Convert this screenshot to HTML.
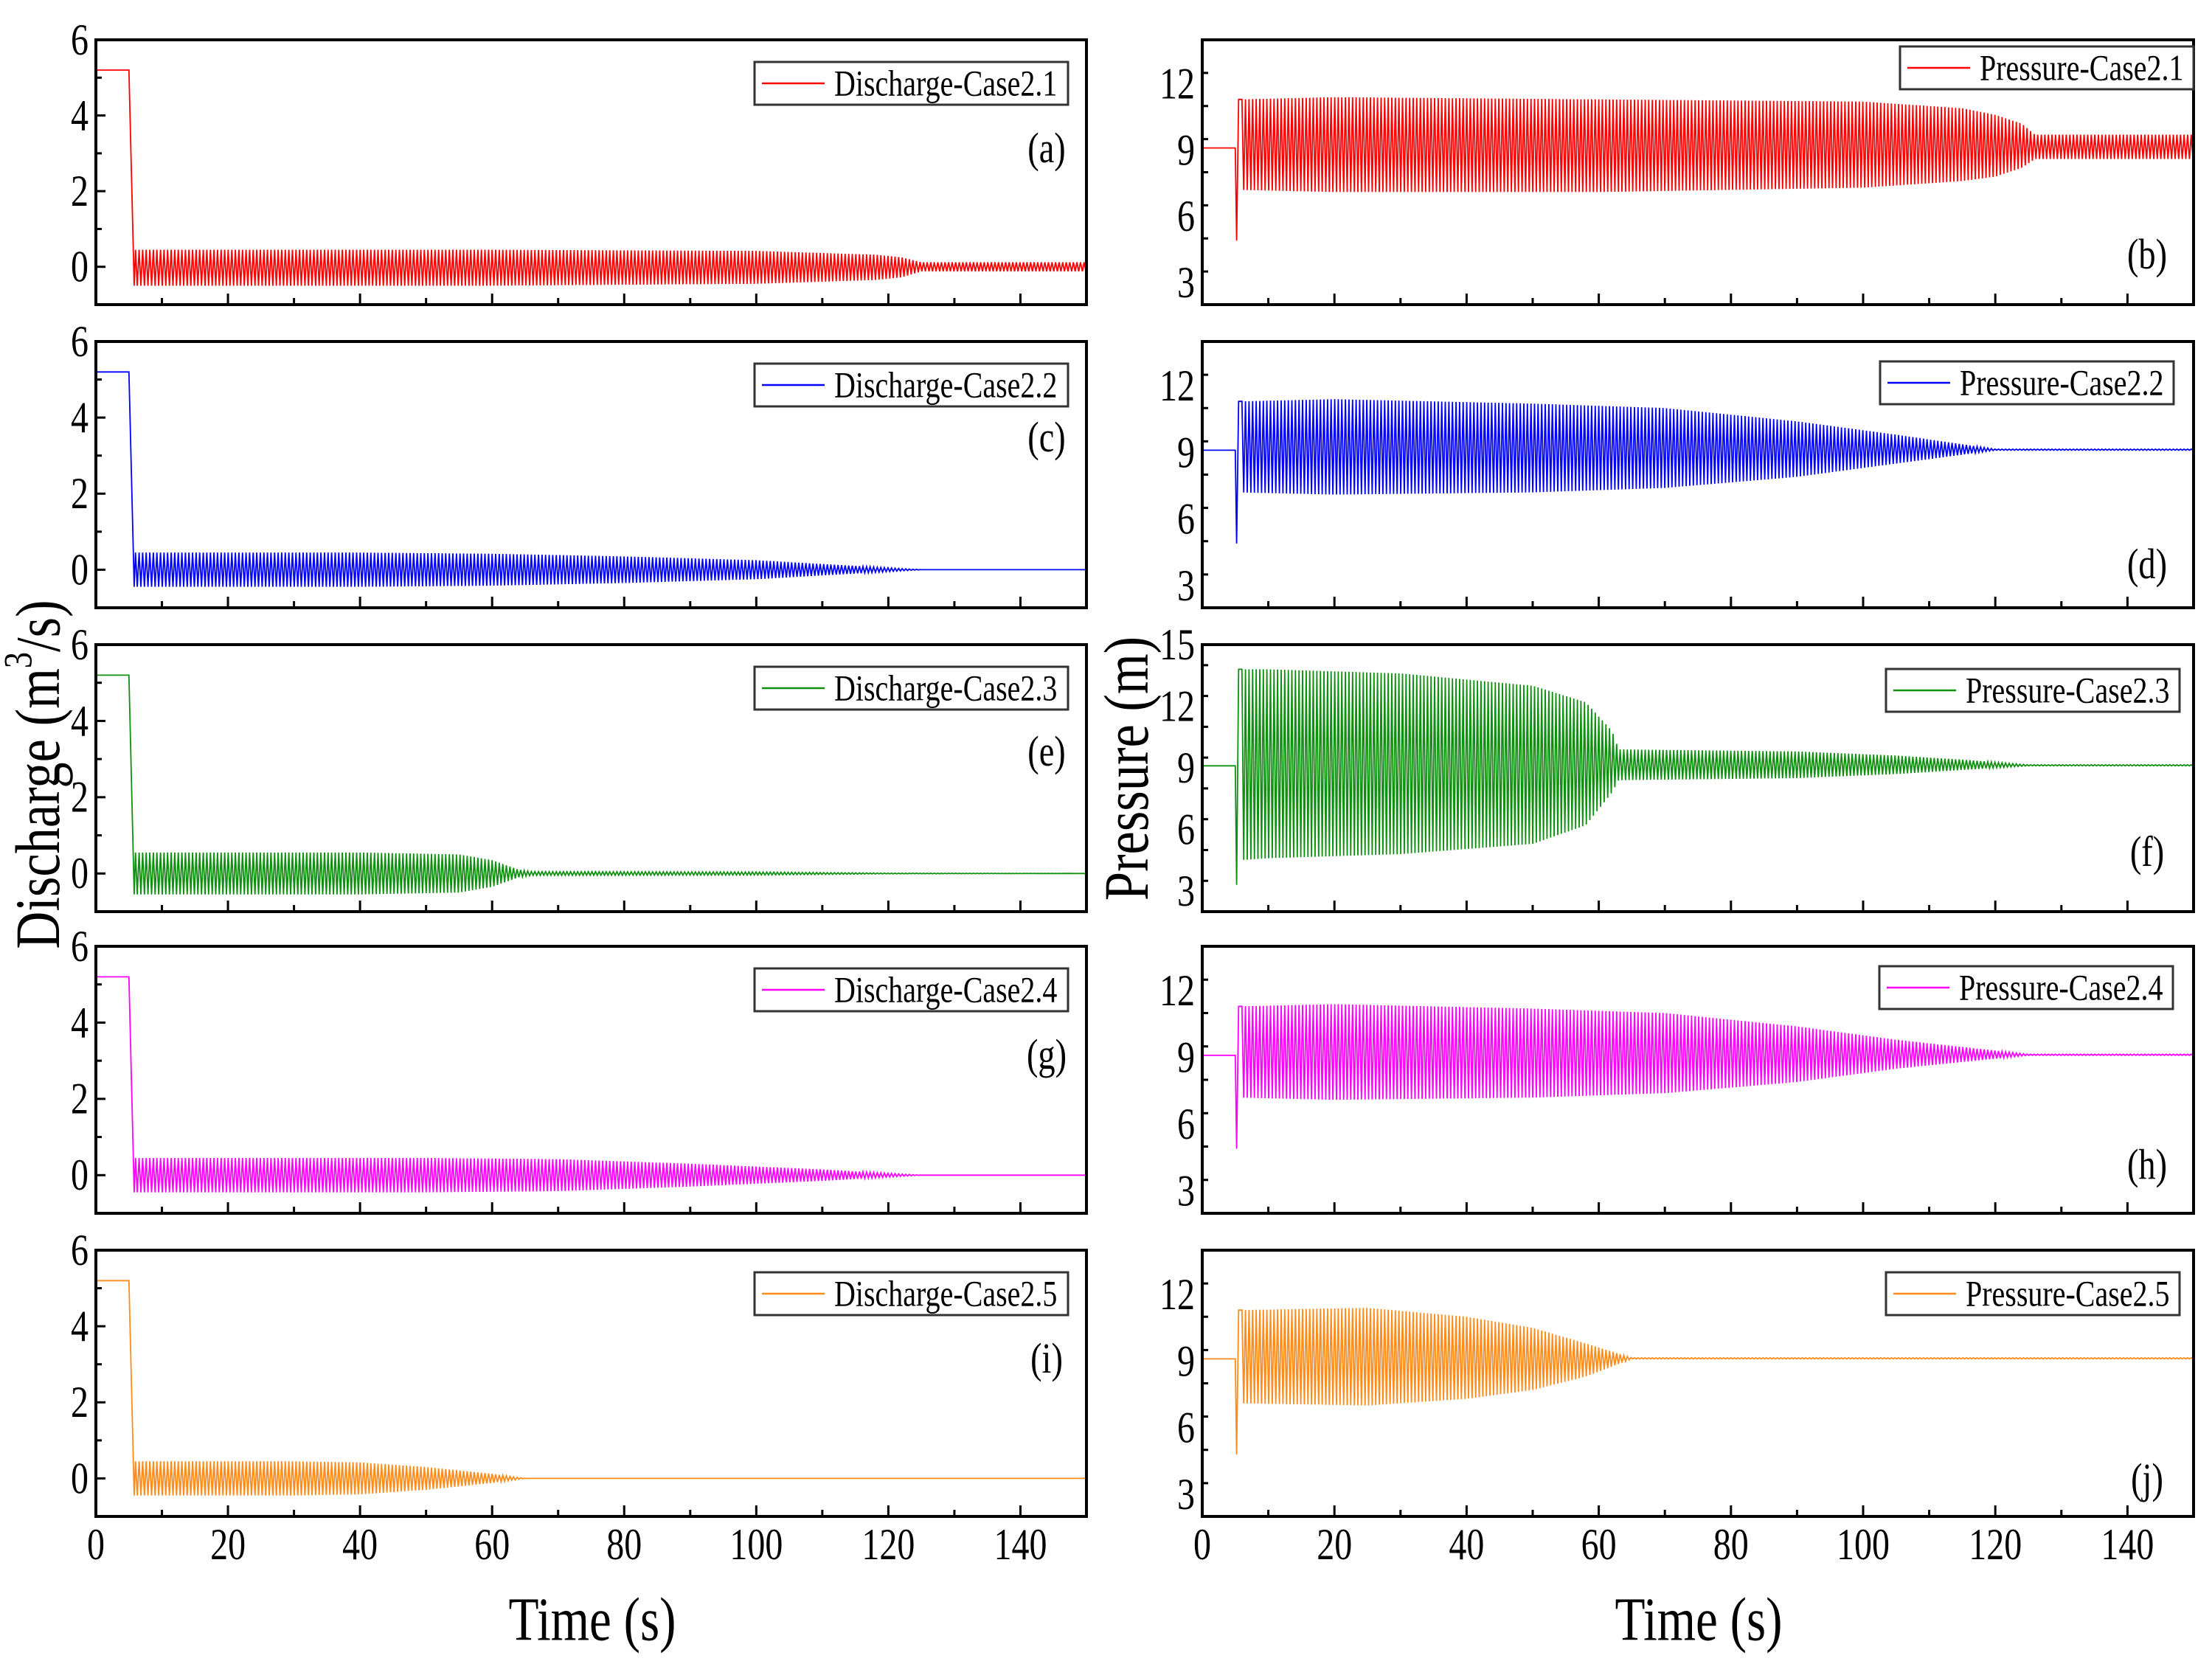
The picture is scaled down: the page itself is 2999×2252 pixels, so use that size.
<!DOCTYPE html>
<html><head><meta charset="utf-8"><style>
html,body{margin:0;padding:0;background:#fff;}
svg{display:block;font-family:"Liberation Serif",serif;}
</style></head><body>
<svg id="fig" width="2999" height="2252" viewBox="0 0 2999 2252" xmlns="http://www.w3.org/2000/svg"></svg>
<script>
// ---- data ----
const xTicks = [0,20,40,60,80,100,120,140];
const dischargeTicks = [0,2,4,6];
const pressureTicks = [3,6,9,12];
const pressureTicksF = [3,6,9,12,15];
const caseNames = ["2.1","2.2","2.3","2.4","2.5"];
const colors = ["#ff0000","#0000ff","#109010","#ff00ff","#ff8c1a"];
const dInitial = [5.2,5.2,5.2,5.2,5.2];
const pInitial = [9.1,9.1,9.1,9.1,9.1];
const pDip = [4.9,4.9,3.3,4.9,4.8];
// envelope knots (time s) with upper/lower values
const d1T=[5.5,20,60,100,118,122,125,150], d1U=[0.45,0.45,0.45,0.42,0.32,0.25,0.12,0.12], d1L=[-0.5,-0.5,-0.5,-0.45,-0.35,-0.28,-0.12,-0.12];
const d2T=[5.5,40,60,80,100,115,125,150], d2U=[0.45,0.45,0.42,0.35,0.25,0.1,0,0], d2L=[-0.45,-0.45,-0.42,-0.35,-0.25,-0.1,0,0];
const d3T=[5.5,40,55,60,64,66,100,120,150], d3U=[0.55,0.55,0.5,0.35,0.1,0.05,0.04,0.01,0], d3L=[-0.55,-0.55,-0.5,-0.35,-0.1,-0.05,-0.04,-0.01,0];
const d4T=[5.5,50,70,90,110,125,150], d4U=[0.45,0.45,0.42,0.3,0.15,0,0], d4L=[-0.45,-0.45,-0.42,-0.3,-0.15,0,0];
const d5T=[5.5,30,40,50,60,65,150], d5U=[0.45,0.45,0.42,0.3,0.12,0,0], d5L=[-0.45,-0.45,-0.42,-0.3,-0.12,0,0];
const p1T=[5.5,20,60,100,115,120,124,126,150], p1U=[11.3,11.4,11.3,11.2,10.9,10.6,10.2,9.7,9.7], p1L=[7.2,7.1,7.1,7.3,7.6,7.8,8.2,8.6,8.6];
const p2T=[5.5,20,50,70,90,105,120,150], p2U=[11.3,11.4,11.2,11.0,10.4,9.8,9.15,9.15], p2L=[7.2,7.1,7.2,7.4,7.9,8.5,9.1,9.1];
const p3T=[5.5,10,30,50,58,62,63,90,105,115,125,150], p3U=[13.8,13.8,13.6,13.0,12.2,10.8,9.9,9.8,9.6,9.4,9.15,9.15], p3L=[4.5,4.6,4.8,5.3,6.2,7.8,8.4,8.5,8.7,8.9,9.1,9.1];
const p4T=[5.5,20,50,70,90,105,125,150], p4U=[11.3,11.4,11.2,11.0,10.4,9.8,9.15,9.15], p4L=[7.2,7.1,7.2,7.4,7.9,8.5,9.1,9.1];
const p5T=[5.5,25,40,50,58,65,150], p5U=[11.3,11.4,11.0,10.5,9.8,9.15,9.15], p5L=[7.1,7.0,7.3,7.7,8.3,9.1,9.1];
const dEnv=[[d1T,d1U,d1L],[d2T,d2U,d2L],[d3T,d3U,d3L],[d4T,d4U,d4L],[d5T,d5U,d5L]];
const pEnv=[[p1T,p1U,p1L],[p2T,p2U,p2L],[p3T,p3U,p3L],[p4T,p4U,p4L],[p5T,p5U,p5L]];
const letters=["a","b","c","d","e","f","g","h","i","j"];

// ---- layout ----
const NS="http://www.w3.org/2000/svg";
const svg=document.getElementById('fig');
const LX=[130,1473], RX=[1630,2974];
const rowTop=[54,463,874,1283,1695], rowBot=[413,824,1236,1645,2056];
const leftLeg=[[1023,30],[1023,30],[1023,30],[1023,30],[1023,30]];
const rightLeg=[[2576,9],[2549,27],[2557,33],[2548,27],[2557,30]];
const leftLetterY=[147,130,145,147,147], rightLetterY=[291,302,281,296,310];
function mk(tag,attrs,parent){const e=document.createElementNS(NS,tag);for(const k in attrs)e.setAttribute(k,attrs[k]);(parent||svg).appendChild(e);return e;}
function interp(T,V,t){if(t<=T[0])return V[0];for(let i=1;i<T.length;i++){if(t<=T[i]){const f=(t-T[i-1])/(T[i]-T[i-1]);return V[i-1]+f*(V[i]-V[i-1]);}}return V[V.length-1];}
function txt(parent,x,y,s,size,anchor,sx){const t=mk('text',{transform:`translate(${x},${y}) scale(${sx||0.8},1)`,'font-size':size,'text-anchor':anchor||'start','dominant-baseline':'central',fill:'#000'},parent);t.textContent=s;return t;}

function panel(idx,col,row){
  const isP=col===1;
  const xr=isP?RX:LX, yt=rowTop[row], yb=rowBot[row];
  const ymin=isP?2:-1, ymax=isP?(row===2?15:14):6;
  const X=t=>xr[0]+(t-0)/(150-0)*(xr[1]-xr[0]);
  const Y=v=>yb-(v-ymin)/(ymax-ymin)*(yb-yt);
  const g=mk('g',{});
  
  
  const env=isP?pEnv[row]:dEnv[row];
  const [T,U,L]=env;
  const init=isP?pInitial[row]:dInitial[row];
  let pts=[[X(0),Y(init)],[X(5),Y(init)]];
  if(isP){pts.push([X(5.2),Y(pDip[row])]);pts.push([X(5.5),Y(interp(T,U,5.5))]);}
  else{pts.push([X(5.8),Y(interp(T,L,5.8))]);}
  const half=0.27; let k=0;
  for(let t=6;t<=150;t+=half,k++){const v=(k%2===0)?interp(T,U,t):interp(T,L,t);pts.push([X(t),Y(v)]);}
  const line=mk('polyline',{points:pts.map(p=>p[0].toFixed(1)+','+p[1].toFixed(1)).join(' '),fill:'none',stroke:colors[row],'stroke-width':1.8,'stroke-linejoin':'miter'},g);
  
  
  const fr=mk('rect',{x:xr[0],y:yt,width:xr[1]-xr[0],height:yb-yt,fill:'none',stroke:'#000','stroke-width':4},g);
  
  
  for(let t=0;t<=150;t+=10){const maj=t%20===0;mk('line',{x1:X(t),x2:X(t),y1:yb,y2:yb-(maj?15:9),stroke:'#000','stroke-width':3},g);}
  if(row===4){for(const t of xTicks){const lb=txt(g,X(t),2094,String(t),60,'middle');
    
    }}
  const ticks=isP?(row===2?pressureTicksF:pressureTicks):dischargeTicks;
  const step=ticks[1]-ticks[0];
  for(let v=ymin;v<=ymax+1e-6;v+=step/2){const maj=ticks.some(tt=>Math.abs(tt-v)<1e-6);if(v<=ymin||v>=ymax)continue;mk('line',{x1:xr[0],x2:xr[0]+(maj?13:8),y1:Y(v),y2:Y(v),stroke:'#000','stroke-width':3},g);}
  for(const v of ticks){const lb=txt(g,xr[0]-10,Y(v),String(v),60,'end');
    
    }
  const lg=isP?rightLeg[row]:leftLeg[row];
  const lx=lg[0], ly=yt+lg[1], lw=isP?398:425, lh=58;
  const leg=mk('g',{},g);
  
  
  mk('rect',{x:lx,y:ly,width:lw,height:lh,fill:'#fff',stroke:'#333','stroke-width':3},leg);
  mk('line',{x1:lx+10,x2:lx+95,y1:ly+lh/2,y2:ly+lh/2,stroke:colors[row],'stroke-width':2.5},leg);
  txt(leg,lx+108,ly+lh/2,(isP?'Pressure-Case':'Discharge-Case')+caseNames[row],50,'start');
  const lt=txt(g,isP?2911:1419,yt+(isP?rightLetterY[row]:leftLetterY[row]),`(${letters[idx]})`,58,'middle');
  
  
}
for(let r=0;r<5;r++){panel(r*2,0,r);panel(r*2+1,1,r);}
const yl=mk('text',{transform:'translate(52,1050) rotate(-90) scale(0.82,1)','font-size':86,'text-anchor':'middle','dominant-baseline':'central'});
yl.innerHTML='Discharge (m<tspan dy="-28" font-size="54">3</tspan><tspan dy="28">/s)</tspan>';


const yr=mk('text',{transform:'translate(1528,1042) rotate(-90) scale(0.82,1)','font-size':86,'text-anchor':'middle','dominant-baseline':'central'});
yr.textContent='Pressure (m)';


const xl=txt(svg,803,2196,'Time (s)',84,'middle');


const xr2=txt(svg,2303,2196,'Time (s)',84,'middle');


</script>
</body></html>
